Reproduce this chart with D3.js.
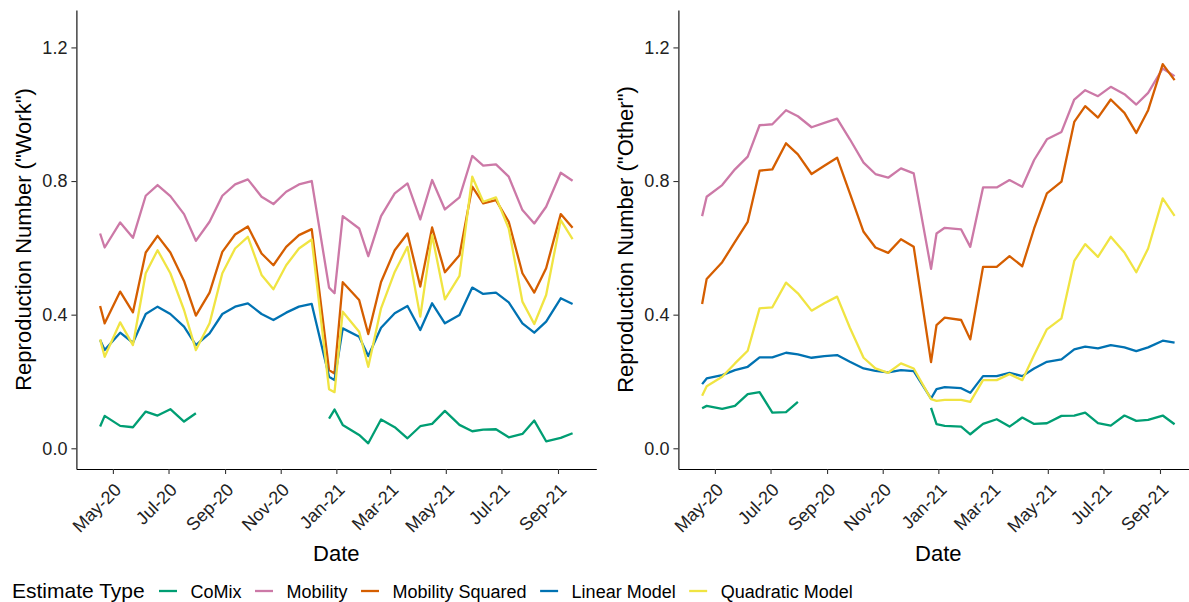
<!DOCTYPE html>
<html lang="en">
<head>
<meta charset="UTF-8">
<script src="https://d3js.org/d3.v7.min.js"></script>
<title>Reproduction number estimates</title>
<style>
  body { margin: 0; background: #fff; }
  svg { display: block; font-family: "Liberation Sans", Arial, sans-serif; }
</style>
</head>
<body>
<script>
// survey dates (roughly fortnightly)
const dates = ["2020-04-17","2020-04-22","2020-05-09","2020-05-23","2020-06-06","2020-06-19","2020-07-03","2020-07-18","2020-07-31",
  "2020-08-15","2020-08-29","2020-09-12","2020-09-26","2020-10-11","2020-10-24","2020-11-07","2020-11-21","2020-12-05",
  "2020-12-24","2020-12-30","2021-01-08","2021-01-26","2021-02-05","2021-02-19","2021-03-06","2021-03-20","2021-04-03",
  "2021-04-16","2021-04-30","2021-05-16","2021-05-30","2021-06-11","2021-06-25","2021-07-09","2021-07-24","2021-08-06",
  "2021-08-19","2021-09-04","2021-09-17"];

const seriesNames = ["CoMix", "Mobility", "Mobility Squared", "Linear Model", "Quadratic Model"];
const tickDates = ["2020-05-01","2020-07-01","2020-09-01","2020-11-01","2021-01-01","2021-03-01","2021-05-01","2021-07-01","2021-09-01"];
const yTicks = [0, 0.4, 0.8, 1.2];

// "Work" panel
const workComix = [0.065,0.097,0.067,0.063,0.110,0.098,0.117,0.080,0.105, null,null,null,null,null,null,null,null,null,
  0.089,0.116,0.070,0.040,0.015,0.086,0.063,0.030,0.066,0.073,0.112,0.070,0.051,0.056,0.057,0.033,0.043,0.083,0.021,0.031,0.045];
const workMobility = [0.643,0.601,0.676,0.630,0.756,0.788,0.755,0.701,0.621,0.678,0.756,0.790,0.805,0.753,0.731,0.768,0.790,0.800,
  0.481,0.464,0.695,0.658,0.575,0.695,0.763,0.793,0.685,0.803,0.715,0.751,0.875,0.846,0.850,0.813,0.713,0.673,0.723,0.825,0.801];
const workMobilitySq = [0.426,0.374,0.469,0.407,0.586,0.636,0.586,0.501,0.397,0.466,0.588,0.640,0.664,0.583,0.548,0.603,0.638,0.656,
  0.234,0.224,0.497,0.444,0.342,0.498,0.593,0.643,0.484,0.661,0.527,0.578,0.783,0.733,0.743,0.678,0.524,0.466,0.539,0.701,0.660];
const workLinear = [0.324,0.294,0.346,0.316,0.402,0.424,0.402,0.364,0.309,0.344,0.402,0.424,0.434,0.402,0.384,0.406,0.424,0.432,
  0.214,0.204,0.359,0.334,0.276,0.361,0.404,0.426,0.354,0.434,0.374,0.399,0.481,0.462,0.466,0.437,0.374,0.346,0.379,0.449,0.432];
const workQuadratic = [0.326,0.274,0.377,0.309,0.524,0.593,0.524,0.414,0.294,0.374,0.524,0.598,0.633,0.519,0.476,0.548,0.598,0.625,
  0.177,0.168,0.409,0.349,0.244,0.419,0.528,0.603,0.394,0.638,0.446,0.516,0.813,0.738,0.751,0.658,0.439,0.372,0.459,0.683,0.626];

// "Other" panel
const otherComix = [0.120,0.127,0.118,0.127,0.162,0.168,0.107,0.108,0.139, null,null,null,null,null,null,null,null,null,
  0.121,0.072,0.067,0.065,0.042,0.073,0.087,0.065,0.092,0.073,0.075,0.097,0.098,0.107,0.075,0.068,0.098,0.082,0.085,0.098,0.072];
const otherMobility = [0.695,0.753,0.788,0.835,0.873,0.967,0.970,1.012,0.994,0.961,0.974,0.987,0.925,0.855,0.821,0.810,0.838,0.823,
  0.537,0.643,0.660,0.655,0.603,0.781,0.781,0.803,0.783,0.863,0.925,0.947,1.044,1.072,1.054,1.082,1.060,1.029,1.064,1.137,1.114];
const otherMobilitySq = [0.432,0.507,0.557,0.618,0.678,0.831,0.835,0.913,0.880,0.821,0.846,0.870,0.763,0.648,0.601,0.585,0.626,0.603,
  0.258,0.369,0.391,0.384,0.326,0.543,0.543,0.575,0.545,0.658,0.763,0.798,0.977,1.024,0.990,1.044,1.004,0.944,1.012,1.150,1.102];
const otherLinear = [0.192,0.209,0.219,0.234,0.244,0.272,0.272,0.286,0.281,0.271,0.276,0.279,0.259,0.239,0.232,0.227,0.234,0.231,
  0.149,0.177,0.183,0.180,0.166,0.216,0.216,0.226,0.216,0.239,0.259,0.266,0.296,0.304,0.299,0.309,0.302,0.291,0.302,0.322,0.316];
const otherQuadratic = [0.157,0.186,0.214,0.254,0.292,0.419,0.422,0.496,0.464,0.412,0.434,0.454,0.361,0.271,0.239,0.226,0.254,0.239,
  0.147,0.142,0.145,0.145,0.139,0.204,0.204,0.222,0.204,0.279,0.356,0.389,0.561,0.611,0.573,0.633,0.586,0.527,0.598,0.748,0.696];

const colors = ["#009E73", "#CC79A7", "#D55E00", "#0072B2", "#F0E442"];
const parse = d3.timeParse("%Y-%m-%d");
const dateObjs = dates.map(parse);

const W = 1189, H = 602;
const svg = d3.select("body").append("svg").attr("width", W).attr("height", H);

const y = d3.scaleLinear().domain([-0.062, 1.312]).range([469, 10]);
const xDomain = [parse("2020-03-22"), parse("2021-10-13")];

const panels = [
  { left: 76.4, right: 596.3, title: 'Reproduction Number ("Work")',
    series: [workComix, workMobility, workMobilitySq, workLinear, workQuadratic] },
  { left: 678.4, right: 1198.3, title: 'Reproduction Number ("Other")',
    series: [otherComix, otherMobility, otherMobilitySq, otherLinear, otherQuadratic] }
];

panels.forEach(p => {
  const x = d3.scaleTime().domain(xDomain).range([p.left, p.right]);
  const g = svg.append("g");

  // lines
  const line = d3.line()
    .defined(d => d.v != null)
    .x(d => x(d.date))
    .y(d => y(d.v));
  p.series.forEach((vals, i) => {
    const pts = vals.map((v, j) => ({ date: dateObjs[j], v: v }));
    g.append("path")
      .datum(pts)
      .attr("d", line)
      .attr("fill", "none")
      .attr("stroke", colors[i])
      .attr("stroke-width", 2.3)
      .attr("stroke-linejoin", "round");
  });

  // x axis
  const xAxis = g.append("g")
    .attr("transform", "translate(0,469)")
    .call(d3.axisBottom(x).tickValues(tickDates.map(parse)).tickFormat(d3.timeFormat("%b-%y")).tickSize(5).tickSizeOuter(0));
  xAxis.select(".domain").attr("stroke", "#000").attr("stroke-width", 1.1);
  xAxis.selectAll(".tick line").attr("stroke", "#333").attr("stroke-width", 1.1);
  xAxis.selectAll(".tick text")
    .attr("fill", "#222")
    .attr("font-size", 18)
    .attr("text-anchor", "end")
    .attr("dy", null)
    .attr("y", 0)
    .attr("transform", "translate(9,22) rotate(-45)");

  // y axis
  const yAxis = g.append("g")
    .attr("transform", `translate(${p.left},0)`)
    .call(d3.axisLeft(y).tickValues(yTicks).tickFormat(d3.format(".1f")).tickSize(5).tickSizeOuter(0));
  yAxis.select(".domain").attr("stroke", "#000").attr("stroke-width", 1.1);
  yAxis.selectAll(".tick line").attr("stroke", "#333").attr("stroke-width", 1.1);
  yAxis.selectAll(".tick text").attr("fill", "#222").attr("font-size", 18).attr("x", -9);

  // titles
  g.append("text")
    .attr("x", (p.left + p.right) / 2)
    .attr("y", 561)
    .attr("text-anchor", "middle")
    .attr("font-size", 22)
    .attr("fill", "#000")
    .text("Date");
  g.append("text")
    .attr("transform", `translate(${p.left - 45},${(10 + 469) / 2}) rotate(-90)`)
    .attr("text-anchor", "middle")
    .attr("font-size", 22)
    .attr("fill", "#000")
    .text(p.title);
});

// legend
const legend = svg.append("g").attr("transform", "translate(0,591)");
legend.append("text")
  .attr("x", 12).attr("y", 7)
  .attr("font-size", 21)
  .text("Estimate Type");
let lx = 159;
seriesNames.forEach((name, i) => {
  legend.append("line")
    .attr("x1", lx).attr("x2", lx + 18)
    .attr("y1", 0).attr("y2", 0)
    .attr("stroke", colors[i]).attr("stroke-width", 2.3);
  const t = legend.append("text")
    .attr("x", lx + 31.5).attr("y", 7)
    .attr("font-size", 18)
    .text(name);
  lx += 31.5 + t.node().getComputedTextLength() + 13.5;
});
</script>
</body>
</html>
